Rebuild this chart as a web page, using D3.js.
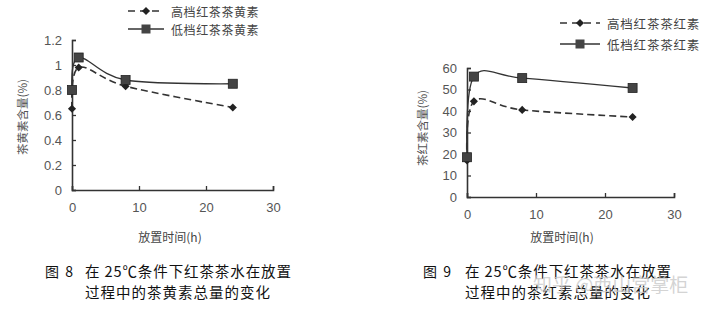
<!DOCTYPE html>
<html><head><meta charset="utf-8">
<script src="https://cdn.jsdelivr.net/npm/d3@7"></script>
<style>
html,body{margin:0;padding:0;background:#fff;}
svg{display:block;}
</style></head>
<body>
<svg id="c" width="720" height="312"></svg>
<script>
// ---- data ----
const timeHours = [0, 1, 8, 24];
const xTicks = [0, 10, 20, 30];
const tfHigh = [0.65, 0.98, 0.83, 0.66];   // 高档红茶茶黄素
const tfLow  = [0.80, 1.06, 0.88, 0.85];   // 低档红茶茶黄素
const trHigh = [17, 44.5, 40.5, 37.2];     // 高档红茶茶红素
const trLow  = [18.5, 56, 55.3, 50.7];     // 低档红茶茶红素
const tfTicks = [0, 0.2, 0.4, 0.6, 0.8, 1, 1.2];
const trTicks = [0, 10, 20, 30, 40, 50, 60];
const tfLegend = ["高档红茶茶黄素", "低档红茶茶黄素"];
const trLegend = ["高档红茶茶红素", "低档红茶茶红素"];
const tfYTitle = "茶黄素含量(%)";
const trYTitle = "茶红素含量(%)";
const xTitle = "放置时间(h)";
const cap8 = ["图 8", "在 25℃条件下红茶茶水在放置", "过程中的茶黄素总量的变化"];
const cap9 = ["图 9", "在 25℃条件下红茶茶水在放置", "过程中的茶红素总量的变化"];
const watermark = "知乎 @西山宫掌柜";

const svg = d3.select("#c");
const sans = "'Liberation Sans', Arial, sans-serif";
const cjk = "'Noto Sans CJK SC', sans-serif";
const ink = "#333";

function chart(o) {
  const x = d3.scaleLinear().domain([0, 30]).range(o.xr);
  const y = d3.scaleLinear().domain(o.yd).range(o.yr);
  const g = svg.append("g");

  const xa = g.append("g").attr("transform", `translate(0,${o.yr[0]})`)
    .call(d3.axisBottom(x).tickValues(xTicks).tickSize(-4).tickPadding(13).tickFormat(d3.format("d")));
  const ya = g.append("g").attr("transform", `translate(${o.xr[0]},0)`)
    .call(d3.axisLeft(y).tickValues(o.ticks).tickSize(-4).tickPadding(10).tickFormat(d => String(d)));
  [xa, ya].forEach(a => {
    a.select(".domain").attr("stroke", ink).attr("stroke-width", 1.6);
    a.selectAll(".tick line").attr("stroke", ink).attr("stroke-width", 1.3);
    a.selectAll("text").attr("fill", "#555").attr("font-family", sans).attr("font-size", 13);
  });

  // x title
  g.append("text").attr("x", o.xTitleX).attr("y", 242).attr("text-anchor", "middle")
    .attr("font-family", cjk).attr("font-size", 12).attr("fill", "#444").text(xTitle);
  // y title
  g.append("text").attr("transform", `translate(${o.yTitleX},${o.yTitleY}) rotate(-90)`)
    .attr("text-anchor", "middle").attr("dominant-baseline", "middle")
    .attr("font-family", cjk).attr("font-size", 11.5).attr("fill", "#555").text(o.yTitle);

  const line = d3.line().x((d, i) => x(timeHours[i])).y(d => y(d)).curve(d3.curveCardinal.tension(0));
  // high grade: dashed with diamonds
  g.append("path").attr("d", line(o.high)).attr("fill", "none").attr("stroke", ink)
    .attr("stroke-width", 1.6).attr("stroke-dasharray", "7,4");
  // low grade: solid with squares
  g.append("path").attr("d", line(o.low)).attr("fill", "none").attr("stroke", ink).attr("stroke-width", 1.3);

  const diamond = d3.symbol().type(d3.symbolDiamond2).size(42);
  g.selectAll(".dh").data(o.high).join("path")
    .attr("transform", (d, i) => `translate(${x(timeHours[i])},${y(d)})`)
    .attr("d", diamond).attr("fill", "#222");
  g.selectAll(".sq").data(o.low).join("rect")
    .attr("x", (d, i) => x(timeHours[i]) - 4.5).attr("y", d => y(d) - 4.5)
    .attr("width", 9).attr("height", 9).attr("fill", "#444").attr("stroke", "#222").attr("stroke-width", 0.8);

  // legend
  o.legend.forEach((t, i) => {
    const ly = o.legY[i];
    g.append("line").attr("x1", o.legX[0]).attr("x2", o.legX[1]).attr("y1", ly).attr("y2", ly)
      .attr("stroke", ink).attr("stroke-width", i === 0 ? 1.6 : 1.3)
      .attr("stroke-dasharray", i === 0 ? "7,5" : null);
    const cx = (o.legX[0] + o.legX[1]) / 2;
    if (i === 0) g.append("path").attr("transform", `translate(${cx},${ly})`).attr("d", diamond).attr("fill", "#222");
    else g.append("rect").attr("x", cx - 4.5).attr("y", ly - 4.5).attr("width", 9).attr("height", 9).attr("fill", "#444");
    g.append("text").attr("x", o.legX[1] + 7).attr("y", ly).attr("dominant-baseline", "central")
      .attr("font-family", cjk).attr("font-size", o.legFont).attr("letter-spacing", o.legSpace)
      .attr("fill", "#444").text(t);
  });

  // caption
  g.append("text").attr("x", o.capX[0]).attr("y", 277).attr("font-family", cjk).attr("font-size", 14)
    .attr("word-spacing", 3).attr("fill", "#111").text(o.cap[0]);
  g.append("text").attr("x", o.capX[1]).attr("y", 277).attr("font-family", cjk).attr("font-size", 14.5)
    .attr("letter-spacing", 0.9).attr("fill", "#111").text(o.cap[1]);
  g.append("text").attr("x", o.capX[1]).attr("y", 298).attr("font-family", cjk).attr("font-size", 14.5)
    .attr("letter-spacing", 1.0).attr("fill", "#111").text(o.cap[2]);
}

chart({
  xr: [72, 273], yr: [190, 40], yd: [0, 1.2], ticks: tfTicks,
  high: tfHigh, low: tfLow, legend: tfLegend, legX: [128, 164], legY: [11, 29],
  legFont: 12, legSpace: 0.6,
  yTitle: tfYTitle, yTitleX: 24, yTitleY: 117, xTitleX: 170,
  cap: cap8, capX: [45, 85]
});
chart({
  xr: [467, 674], yr: [197, 68], yd: [0, 60], ticks: trTicks,
  high: trHigh, low: trLow, legend: trLegend, legX: [560, 600], legY: [23, 44],
  legFont: 12.5, legSpace: 0.8,
  yTitle: trYTitle, yTitleX: 424, yTitleY: 128, xTitleX: 562,
  cap: cap9, capX: [423, 465]
});

// watermark
svg.append("text").attr("x", 533).attr("y", 283).attr("dominant-baseline", "central")
  .attr("font-family", cjk).attr("font-size", 19).attr("fill", "#c8c8c8").attr("fill-opacity", 0.8)
  .text(watermark);
</script>
</body></html>
